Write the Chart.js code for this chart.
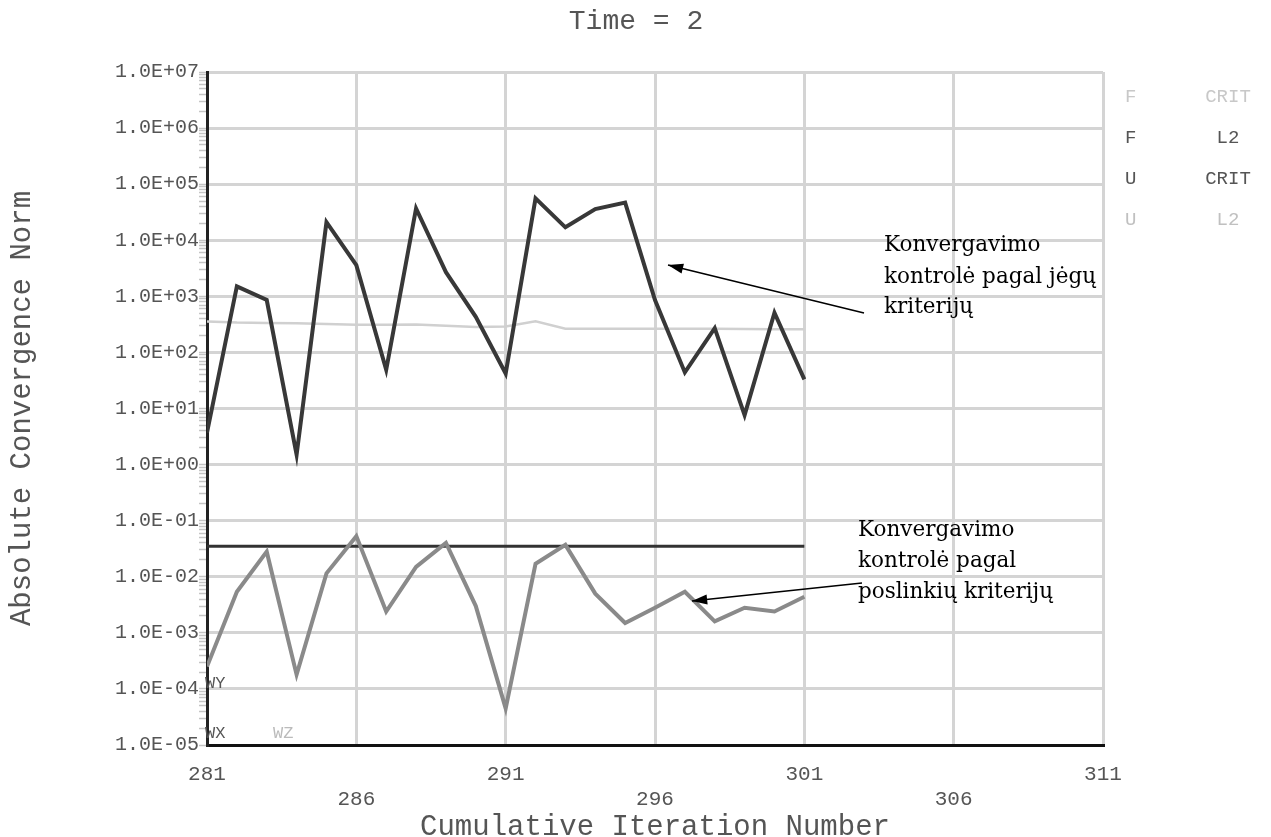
<!DOCTYPE html>
<html lang="lt">

<head>
  <meta charset="UTF-8">
  <title>Absolute Convergence Norm</title>
  <script src="https://cdn.jsdelivr.net/npm/chart.js"></script>
  <style>
    body { margin: 0; background: #fff; }
    #box { width: 1271px; height: 837px; }
  </style>
</head>

<body>
  <div id="box"><canvas id="grafikas"></canvas></div>
</body>

</html>
<script>
  // iteracijos (x asis)
  var iteracijos = [281, 282, 283, 284, 285, 286, 287, 288, 289, 290, 291, 292, 293, 294, 295, 296, 297, 298, 299, 300, 301];

  // F L2 - jegu norma
  var fL2 = [3.7, 1500, 860, 1.5, 21000, 3600, 49, 37000, 2700, 430, 42, 56000, 17000, 36000, 47000, 860, 44, 270, 7.6, 510, 33];

  // F CRIT - jegu kriterijus
  var fCrit = [355, 340, 335, 330, 320, 310, 310, 315, 300, 285, 290, 360, 265, 265, 265, 265, 265, 265, 262, 260, 260];

  // U L2 - poslinkiu norma
  var uL2 = [0.00025, 0.0054, 0.028, 0.00018, 0.0115, 0.053, 0.0024, 0.015, 0.04, 0.003, 0.000045, 0.017, 0.037, 0.005, 0.0015, 0.0028, 0.0054, 0.0016, 0.0028, 0.0024, 0.0044];

  // U CRIT - poslinkiu kriterijus
  var uCrit = [0.035, 0.035, 0.035, 0.035, 0.035, 0.035, 0.035, 0.035, 0.035, 0.035, 0.035, 0.035, 0.035, 0.035, 0.035, 0.035, 0.035, 0.035, 0.035, 0.035, 0.035];

  // asiu zymes
  var xZymes = [281, 286, 291, 296, 301, 306, 311];
  var yLaipsniai = [-5, -4, -3, -2, -1, 0, 1, 2, 3, 4, 5, 6, 7];

  var mono = 'Liberation Mono, Courier New, monospace';

  function taskai(reiksmes) {
    var t = [];
    for (var i = 0; i < iteracijos.length; i++) {
      t.push({ x: iteracijos[i], y: reiksmes[i] });
    }
    return t;
  }

  function arDekada(v) {
    var l = Math.log10(v);
    return Math.abs(l - Math.round(l)) < 1e-9;
  }

  // 1.0E+07 formatas
  function formatas(v) {
    var e = Math.round(Math.log10(v));
    var s = e < 0 ? '-' : '+';
    var a = Math.abs(e);
    return '1.0E' + s + (a < 10 ? '0' + a : a);
  }

  function rodykle(ctx, x1, y1, x2, y2) {
    var kampas = Math.atan2(y2 - y1, x2 - x1);
    ctx.strokeStyle = '#000';
    ctx.fillStyle = '#000';
    ctx.lineWidth = 1.6;
    ctx.beginPath();
    ctx.moveTo(x1, y1);
    ctx.lineTo(x2, y2);
    ctx.stroke();
    ctx.beginPath();
    ctx.moveTo(x2, y2);
    ctx.lineTo(x2 - 16 * Math.cos(kampas - 0.32), y2 - 16 * Math.sin(kampas - 0.32));
    ctx.lineTo(x2 - 16 * Math.cos(kampas + 0.32), y2 - 16 * Math.sin(kampas + 0.32));
    ctx.closePath();
    ctx.fill();
  }

  // pavadinimas, uzrasai, rodykles ir legenda desineje
  var uzrasai = {
    id: 'uzrasai',
    afterDraw: function (chart) {
      var ctx = chart.ctx;
      ctx.save();

      ctx.font = '28px ' + mono;
      ctx.fillStyle = '#555';
      ctx.textAlign = 'center';
      ctx.textBaseline = 'middle';
      ctx.fillText('Time = 2', 636, 22);

      ctx.font = '21.5px DejaVu Serif, serif';
      ctx.fillStyle = '#000';
      ctx.textAlign = 'left';
      ctx.fillText('Konvergavimo', 884, 245);
      ctx.fillText('kontrolė pagal jėgų', 884, 277);
      ctx.fillText('kriterijų', 884, 307);
      ctx.fillText('Konvergavimo', 858, 530);
      ctx.fillText('kontrolė pagal', 858, 561);
      ctx.fillText('poslinkių kriterijų', 858, 592);

      rodykle(ctx, 864, 313, 668, 265);
      rodykle(ctx, 862, 583, 692, 601);

      // legenda
      var eil = [['F', 'CRIT', '#c8c8c8'], ['F', 'L2', '#555'], ['U', 'CRIT', '#555'], ['U', 'L2', '#c0c0c0']];
      ctx.font = '19px ' + mono;
      for (var i = 0; i < eil.length; i++) {
        var y = 97 + i * 41;
        ctx.fillStyle = eil[i][2];
        ctx.textAlign = 'left';
        ctx.fillText(eil[i][0], 1125, y);
        ctx.textAlign = 'center';
        ctx.fillText(eil[i][1], 1228, y);
      }

      ctx.font = '17px ' + mono;
      ctx.textAlign = 'left';
      ctx.fillStyle = '#555';
      ctx.fillText('WY', 205, 683);
      ctx.fillText('WX', 205, 733);
      ctx.fillStyle = '#bbb';
      ctx.fillText('WZ', 273, 733);
      ctx.restore();
    }
  };

  var grafikas = new Chart(document.getElementById('grafikas'), {
    type: 'line',
    data: {
      datasets: [
        { label: 'F L2', data: taskai(fL2), borderColor: '#383838', borderWidth: 4 },
        { label: 'U L2', data: taskai(uL2), borderColor: '#8a8a8a', borderWidth: 4 },
        { label: 'U CRIT', data: taskai(uCrit), borderColor: '#333', borderWidth: 3 },
        { label: 'F CRIT', data: taskai(fCrit), borderColor: '#d0d0d0', borderWidth: 2.5 }
      ]
    },
    options: {
      responsive: true,
      maintainAspectRatio: false,
      animation: false,
      parsing: false,
      elements: { point: { radius: 0 }, line: { tension: 0 } },
      layout: { padding: { left: 0, right: 168, top: 72, bottom: 0 } },
      plugins: {
        legend: { display: false },
        tooltip: { enabled: false },
        title: { display: false }
      },
      scales: {
        x: {
          type: 'linear',
          min: 281,
          max: 311,
          weight: 0,
          afterBuildTicks: function (scale) {
            scale.ticks = xZymes.map(function (v) { return { value: v }; });
          },
          afterFit: function (scale) { scale.height = 40; },
          ticks: {
            autoSkip: false,
            maxRotation: 0,
            padding: 17,
            color: '#555',
            font: { family: mono, size: 21 },
            callback: function (v) { return (v - 281) % 10 == 0 ? String(v) : ''; }
          },
          grid: { color: '#d4d4d4', lineWidth: 3, drawTicks: false },
          border: { color: '#111', width: 3 }
        },
        x2: {
          type: 'linear',
          position: 'bottom',
          min: 281,
          max: 311,
          weight: 1,
          afterBuildTicks: function (scale) {
            scale.ticks = xZymes.map(function (v) { return { value: v }; });
          },
          afterFit: function (scale) { scale.height = 52; },
          ticks: {
            autoSkip: false,
            maxRotation: 0,
            padding: 2,
            color: '#555',
            font: { family: mono, size: 21 },
            callback: function (v) { return (v - 281) % 10 == 5 ? String(v) : ''; }
          },
          grid: { display: false, drawTicks: false },
          border: { display: false },
          title: {
            display: true,
            text: 'Cumulative Iteration Number',
            color: '#555',
            font: { family: mono, size: 29, lineHeight: 0.7 },
            padding: 0
          }
        },
        y: {
          type: 'logarithmic',
          min: 1e-5,
          max: 1e7,
          afterBuildTicks: function (scale) {
            var t = [];
            for (var k = 0; k < yLaipsniai.length; k++) {
              var e = yLaipsniai[k];
              for (var m = 1; m <= 9; m++) {
                if (e == 7 && m > 1) break;
                t.push({ value: m * Math.pow(10, e) });
              }
            }
            scale.ticks = t;
          },
          afterFit: function (scale) { scale.width = 207; },
          ticks: {
            autoSkip: false,
            padding: 0,
            color: '#555',
            font: { family: mono, size: 20 },
            callback: function (v) { return arDekada(v) ? formatas(v) : ''; }
          },
          grid: {
            lineWidth: 3,
            tickLength: 8,
            color: function (c) { return c.tick && arDekada(c.tick.value) ? '#d4d4d4' : 'rgba(0,0,0,0)'; },
            tickColor: '#c4c4c4',
            tickWidth: 1.5
          },
          border: { color: '#222', width: 3 },
          title: {
            display: true,
            text: 'Absolute Convergence Norm',
            color: '#555',
            font: { family: mono, size: 29, lineHeight: 1.2 },
            padding: { top: 5, bottom: 0 }
          }
        }
      }
    },
    plugins: [uzrasai]
  });
</script>
